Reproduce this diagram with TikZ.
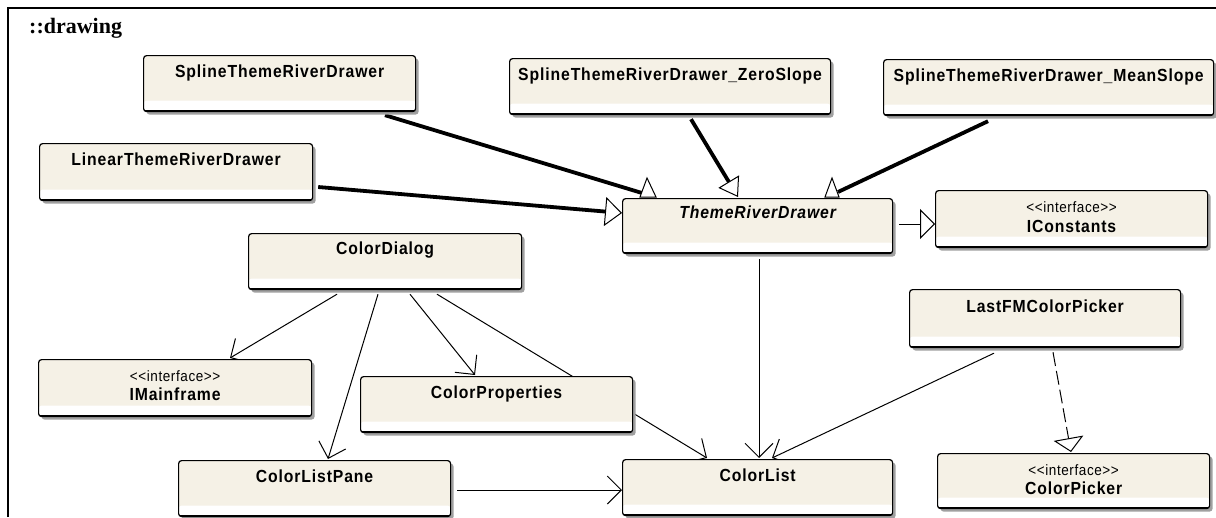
\documentclass[tikz,border=0pt]{standalone}
\usepackage{fontspec}
\setmainfont{Liberation Serif}
\newfontfamily\umlfont[LetterSpace=5,FakeStretch=0.9]{Liberation Sans}
\newfontfamily\stereofont[LetterSpace=4,FakeStretch=0.9]{Liberation Sans}
\usetikzlibrary{arrows.meta,shadows,calc,backgrounds}

\definecolor{classfill}{RGB}{245,241,230}
\definecolor{shadowgray}{RGB}{160,160,160}

\tikzset{
  classbox/.style={draw=black, line width=1.2pt, rounded corners=3pt,
    fill=classfill, inner sep=0pt, minimum width=272pt, minimum height=56pt,
    anchor=north west,
    drop shadow={shadow xshift=3pt, shadow yshift=-3pt, fill=shadowgray, opacity=1},
    path picture={\fill[white] (path picture bounding box.south west)
      rectangle ([yshift=11pt]path picture bounding box.south east);
      \draw[black, line width=2.4pt] (path picture bounding box.south west)
      -- (path picture bounding box.south east);}},
  classname/.style={font=\umlfont\bfseries\fontsize{17.5}{20}\selectfont,
    inner sep=0pt, anchor=base},
  abstractname/.style={font=\umlfont\bfseries\itshape\fontsize{17.5}{20}\selectfont,
    inner sep=0pt, anchor=base},
  stereo/.style={font=\stereofont\fontsize{15}{17}\selectfont,
    inner sep=0pt, anchor=base},
  inherit/.style={line width=3.8pt},
  assoc/.style={line width=1pt, -{Straight Barb[length=14pt,width=28pt]}},
  realize/.style={line width=1pt, dash pattern=on 14pt off 5pt,
    -{Triangle[open,length=14pt,width=30pt,line width=1pt]}},
  hollowtip/.style={draw=black, fill=white, line width=1pt, line join=miter},
}

\begin{document}
\begin{tikzpicture}[x=1pt, y=-1pt]
\useasboundingbox (0,0) rectangle (1216,517);

% package frame
\draw[line width=2pt] (8,517) -- (8,8) -- (1216,8);
\node[anchor=base west, inner sep=0pt, font=\bfseries\fontsize{22}{26}\selectfont] (title) at (29,33) {::drawing};

% classes
\node[classbox] (sp) at (143,55) {};
\node[classname] (sp-t) at ($(sp.north)+(0,22)$) {SplineThemeRiverDrawer};

\node[classbox, minimum width=321pt] (zero) at (509,58) {};
\node[classname] (zero-t) at ($(zero.north)+(0,22)$) {SplineThemeRiverDrawer\_ZeroSlope};

\node[classbox, minimum width=330pt] (mean) at (883,59) {};
\node[classname] (mean-t) at ($(mean.north)+(0,22)$) {SplineThemeRiverDrawer\_MeanSlope};

\node[classbox, minimum width=273pt, minimum height=57pt] (lin) at (39,143) {};
\node[classname] (lin-t) at ($(lin.north)+(0,22)$) {LinearThemeRiverDrawer};

\node[classbox, minimum width=270pt, minimum height=55pt] (trd) at (622,198) {};
\node[abstractname] (trd-t) at ($(trd.north)+(0,20)$) {ThemeRiverDrawer};

\node[classbox, minimum height=57pt] (icon) at (935,190) {};
\node[stereo] (icon-s) at ($(icon.north)+(0,22)$) {<<interface>>};
\node[classname] (icon-t) at ($(icon.north)+(0,42)$) {IConstants};

\node[classbox, minimum width=273pt] (cd) at (248,233) {};
\node[classname] (cd-t) at ($(cd.north)+(0,21)$) {ColorDialog};

\node[classbox, minimum width=273pt, minimum height=57pt] (imf) at (38,359) {};
\node[stereo] (imf-s) at ($(imf.north)+(0,22)$) {<<interface>>};
\node[classname] (imf-t) at ($(imf.north)+(0,41)$) {IMainframe};

\node[classbox] (cprop) at (360,376) {};
\node[classname] (cprop-t) at ($(cprop.north)+(0,22)$) {ColorProperties};

\node[classbox] (clp) at (178,460) {};
\node[classname] (clp-t) at ($(clp.north)+(0,22)$) {ColorListPane};

\node[classbox, minimum width=270pt] (cl) at (622,459) {};
\node[classname] (cl-t) at ($(cl.north)+(0,22)$) {ColorList};

\node[classbox, minimum width=271pt, minimum height=58pt] (lfm) at (909,289) {};
\node[classname] (lfm-t) at ($(lfm.north)+(0,23)$) {LastFMColorPicker};

\node[classbox, minimum height=55pt] (cpick) at (937,453) {};
\node[stereo] (cpick-s) at ($(cpick.north)+(0,22)$) {<<interface>>};
\node[classname] (cpick-t) at ($(cpick.north)+(0,41)$) {ColorPicker};

% relations, kept under the class boxes
\begin{pgfonlayer}{background}
  % generalizations into ThemeRiverDrawer
  \draw[inherit] ($(sp.south west)+(242,3)$) -- ($(trd.north west)+(20,-5)$);
  \draw[hollowtip] ($(trd.north west)+(18,-1)$) -- ($(trd.north west)+(25,-20)$)
    -- ($(trd.north west)+(34,-1)$) -- cycle;

  \draw[inherit, -{Triangle[open,length=18pt,width=24pt,line width=1pt]}]
    ($(zero.south west)+(182,4)$) -- ($(trd.north west)+(116,-1)$);

  \draw[inherit] ($(mean.south west)+(105,5)$) -- ($(trd.north west)+(216,-6)$);
  \draw[hollowtip] ($(trd.north west)+(203,-1)$) -- ($(trd.north west)+(210,-20)$)
    -- ($(trd.north west)+(217,-1)$) -- cycle;

  \draw[inherit, -{Triangle[open,length=17pt,width=29pt,line width=1pt]}]
    ($(lin.north east)+(5,44)$) -- ($(trd.north west)+(0,15)$);

  \draw[line width=1pt, -{Triangle[open,length=15pt,width=30pt,line width=1pt]}]
    ($(trd.north east)+(6,26)$) -- ($(icon.north west)+(0,34)$);

  % associations
  \draw[assoc] ($(trd.south west)+(137,5)$) -- ($(cl.north west)+(137,-1)$);
  \draw[assoc] ($(cd.south west)+(89,4)$) -- ($(imf.north west)+(192,-1)$);
  \draw[assoc] ($(cd.south west)+(130,4)$) -- ($(clp.north west)+(150,-1)$);
  \draw[assoc] ($(cd.south west)+(162,4)$) -- ($(cprop.north west)+(115,-1)$);
  \draw[assoc] ($(cd.south west)+(189,4)$) -- ($(cl.north west)+(85,-1)$);
  \draw[assoc] ($(clp.north east)+(6,30)$) -- ($(cl.north west)+(0,31)$);
  \draw[assoc] ($(lfm.south west)+(85,5)$) -- ($(cl.north west)+(150,-1)$);

  % realization
  \draw[realize] ($(lfm.south west)+(144,4)$) -- ($(cpick.north west)+(134,-1)$);
\end{pgfonlayer}
\end{tikzpicture}
\end{document}
